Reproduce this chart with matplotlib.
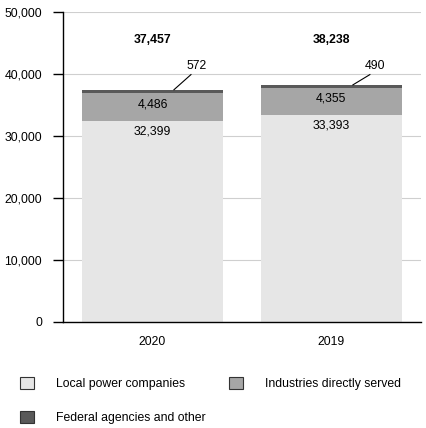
import numpy as np
import matplotlib.pyplot as plt
from matplotlib.patches import Patch

plt.rcParams['font.family'] = ['Liberation Sans', 'DejaVu Sans']

years = ['2020', '2019']
local = [32399, 33393]
industries = [4486, 4355]
federal = [572, 490]
totals = [37457, 38238]

c_local = '#e6e6e6'
c_ind = '#a6a6a6'
c_fed = '#595959'
fs = 8.8

fig = plt.figure(figsize=(4.26, 4.28), dpi=100)
ax = fig.add_axes([0.148, 0.248, 0.84, 0.724])

x = np.arange(len(years))
w = 0.79
local_a = np.array(local)
ind_a = np.array(industries)
fed_a = np.array(federal)

ax.bar(x, local_a, w, color=c_local, zorder=2)
ax.bar(x, ind_a, w, bottom=local_a, color=c_ind, zorder=2)
ax.bar(x, fed_a, w, bottom=local_a + ind_a, color=c_fed, zorder=2)

for i in range(len(years)):
    ax.text(x[i], local_a[i] - 1700, f'{local[i]:,}', ha='center', va='center', fontsize=fs)
    ax.text(x[i], local_a[i] + ind_a[i] / 2 + 400, f'{industries[i]:,}', ha='center', va='center', fontsize=fs)
    ax.text(x[i], 45500, f'{totals[i]:,}', ha='center', va='center', fontsize=fs, fontweight='bold')
    # leader line from bar top to the small segment label
    ax.plot([x[i] + 0.12, x[i] + 0.215], [totals[i], 39900], color='black', lw=0.8, zorder=3)
    ax.text(x[i] + 0.245, 41300, f'{federal[i]:,}', ha='center', va='center', fontsize=fs)

ax.set_xlim(-0.5, 1.5)
ax.set_ylim(0, 50000)
ax.set_yticks(np.arange(0, 50001, 10000))
ax.set_yticklabels([f'{v:,}' for v in range(0, 50001, 10000)], fontsize=fs)
ax.set_xticks(x)
ax.set_xticklabels(years, fontsize=fs)
ax.tick_params(axis='x', length=0, pad=10)
ax.tick_params(axis='y', length=7, width=1, pad=8)
ax.grid(axis='y', color='#cfcfcf', lw=0.8, zorder=0)
ax.set_axisbelow(True)
for s in ['top', 'right']:
    ax.spines[s].set_visible(False)
ax.spines['left'].set_linewidth(1)
ax.spines['bottom'].set_linewidth(1)

handles = [Patch(facecolor=c_local, edgecolor='#333333', lw=0.8),
           Patch(facecolor=c_fed, edgecolor='#333333', lw=0.8),
           Patch(facecolor=c_ind, edgecolor='#333333', lw=0.8)]
labels = ['Local power companies', 'Federal agencies and other', 'Industries directly served']
fig.legend(handles, labels, ncol=2, loc='upper left', bbox_to_anchor=(0.035, 0.13),
           frameon=False, fontsize=fs, handlelength=1.15, handleheight=1.15,
           handletextpad=1.8, columnspacing=1.9, labelspacing=1.65, borderaxespad=0)

fig.savefig('out.png', dpi=100)
